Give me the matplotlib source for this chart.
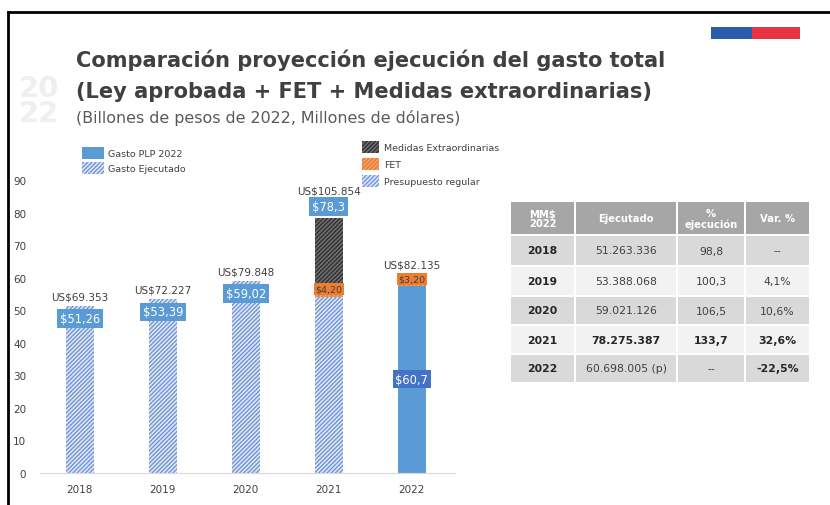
import numpy as np
import matplotlib
matplotlib.use("Agg")
import matplotlib.pyplot as plt
from matplotlib.patches import Rectangle, Patch
from matplotlib.lines import Line2D

plt.rcParams['hatch.linewidth'] = 0.9

# data
years = ['2018', '2019', '2020', '2021', '2022']
regular = [51.26, 53.39, 59.02, 54.0, 0.0]
fet = [0.0, 0.0, 0.0, 4.2, 3.2]
extra = [0.0, 0.0, 0.0, 20.1, 0.0]
plp = [0.0, 0.0, 0.0, 0.0, 57.5]
total_labels = ['$51,26', '$53,39', '$59,02', '$78,3', '$60,7']
fet_labels = ['', '', '', '$4,20', '$3,20']
usd_labels = ['US$69.353', 'US$72.227', 'US$79.848', 'US$105.854', 'US$82.135']

table_header = ['MM$\n2022', 'Ejecutado', '%\nejecución', 'Var. %']
table_years = ['2018', '2019', '2020', '2021', '2022']
table_ejecutado = ['51.263.336', '53.388.068', '59.021.126', '78.275.387', '60.698.005 (p)']
table_pct = ['98,8', '100,3', '106,5', '133,7', '--']
table_var = ['--', '4,1%', '10,6%', '32,6%', '-22,5%']

BLUE = '#5b9bd5'
HATCH_BLUE = '#6a8fd0'
HATCH_BG = '#dde6f6'
ORANGE = '#ed7d31'
DARK = '#2b2b2b'
TXT = '#404040'
HATCH = '////////'

fig = plt.figure(figsize=(8.3, 5.06), dpi=100)
fig.patch.set_facecolor('white')

# frame lines
fig.add_artist(Line2D([0.0096, 1.0], [0.974, 0.974], color='black', lw=2))
fig.add_artist(Line2D([0.0096, 0.0096], [0.0, 0.974], color='black', lw=2))

# flag
fig.add_artist(Rectangle((711 / 830, 1 - 40 / 506), 41 / 830, 12 / 506,
                         transform=fig.transFigure, color='#2a5caa', lw=0))
fig.add_artist(Rectangle((752 / 830, 1 - 40 / 506), 48 / 830, 12 / 506,
                         transform=fig.transFigure, color='#e63342', lw=0))

# faint logo
fig.text(0.022, 0.80, '20\n22', fontsize=21, fontweight='bold', color='#efefef',
         va='center', ha='left', linespacing=0.85)

# titles
fig.text(76 / 830, 1 - 60 / 506, 'Comparación proyección ejecución del gasto total',
         fontsize=15.1, fontweight='bold', color=TXT, va='center', ha='left')
fig.text(76 / 830, 1 - 92 / 506, '(Ley aprobada + FET + Medidas extraordinarias)',
         fontsize=15.1, fontweight='bold', color=TXT, va='center', ha='left')
fig.text(76 / 830, 1 - 118 / 506, '(Billones de pesos de 2022, Millones de dólares)',
         fontsize=11.4, color='#595959', va='center', ha='left')

# bar chart
ax = fig.add_axes([40 / 830, 1 - 474 / 506, 415 / 830, 293 / 506])
x = np.arange(len(years))
w = 0.33
reg = np.array(regular)
fe = np.array(fet)
ex = np.array(extra)
pl = np.array(plp)

ax.bar(x, reg, w, color=HATCH_BG, edgecolor=HATCH_BLUE, hatch=HATCH, lw=0)
ax.bar(x, pl, w, color=BLUE, lw=0)
base = reg + pl
ax.bar(x, fe, w, bottom=base, color=ORANGE, edgecolor='#f4a774', hatch=HATCH, lw=0)
ax.bar(x, ex, w, bottom=base + fe, color='#6e6e6e', edgecolor=DARK, hatch=HATCH, lw=0)
total = base + fe + ex

for i in range(len(years)):
    t = total[i]
    if i < 3:
        ypos = t - 3.9
        usd_y = t + 3.0
        box = BLUE
    elif i == 3:
        ypos = t + 3.6
        usd_y = t + 8.5
        box = BLUE
    else:
        ypos = t / 2 - 1.5
        usd_y = t + 3.4
        box = '#4472c4'
    ax.text(x[i], ypos, total_labels[i], ha='center', va='center', fontsize=8.3,
            color='white', bbox=dict(boxstyle='square,pad=0.25', fc=box, ec='none'))
    ax.text(x[i], usd_y, usd_labels[i], ha='center', va='center', fontsize=7.5, color=TXT)
    if fet_labels[i]:
        ax.text(x[i], base[i] + fe[i] / 2 + 0.4, fet_labels[i], ha='center', va='center',
                fontsize=6.8, color=TXT,
                bbox=dict(boxstyle='square,pad=0.15', fc=ORANGE, ec='none'))

ax.set_xlim(-0.48, 4.52)
ax.set_ylim(0, 90)
ax.set_yticks(range(0, 91, 10))
ax.set_xticks(x)
ax.set_xticklabels(years)
ax.tick_params(length=0, labelsize=7.5, colors=TXT)
ax.tick_params(axis='y', pad=10)
ax.tick_params(axis='x', pad=8)
for s in ['top', 'right', 'left']:
    ax.spines[s].set_visible(False)
ax.spines['bottom'].set_color('#d9d9d9')

# legends
h1 = [Patch(facecolor=BLUE, lw=0, label='Gasto PLP 2022'),
      Patch(facecolor=HATCH_BG, edgecolor=HATCH_BLUE, hatch=HATCH, lw=0, label='Gasto Ejecutado')]
fig.legend(handles=h1, loc='upper left', bbox_to_anchor=(73 / 830, 1 - 139 / 506),
           frameon=False, fontsize=6.8, handlelength=2.4, handleheight=1.6,
           labelspacing=0.35, handletextpad=0.4, labelcolor=TXT)
h2 = [Patch(facecolor='#6e6e6e', edgecolor=DARK, hatch=HATCH, lw=0, label='Medidas Extraordinarias'),
      Patch(facecolor=ORANGE, edgecolor='#f4a774', hatch=HATCH, lw=0, label='FET'),
      Patch(facecolor=HATCH_BG, edgecolor=HATCH_BLUE, hatch=HATCH, lw=0, label='Presupuesto regular')]
fig.legend(handles=h2, loc='upper left', bbox_to_anchor=(353 / 830, 1 - 133 / 506),
           frameon=False, fontsize=6.8, handlelength=1.8, handleheight=1.6,
           labelspacing=0.55, handletextpad=0.6, labelcolor=TXT)

# table
tax = fig.add_axes([0, 0, 1, 1])
tax.set_xlim(0, 830)
tax.set_ylim(506, 0)
tax.axis('off')
cols = [510, 575, 677, 745, 810]
rows = [203, 236, 267, 297, 326, 355, 384]
gap = 1.2
for j in range(4):
    x0, x1 = cols[j] + gap, cols[j + 1] - gap
    tax.add_patch(Rectangle((x0, rows[0]), x1 - x0, rows[1] - rows[0] - gap,
                            color='#a6a6a6', lw=0))
    tax.text((x0 + x1) / 2, (rows[0] + rows[1]) / 2, table_header[j], ha='center', va='center',
             fontsize=7.2, color='white', fontweight='bold', linespacing=0.95)

for r in range(len(table_years)):
    fc = '#d9d9d9' if r % 2 == 0 else '#f2f2f2'
    y0, y1 = rows[r + 1] + gap, rows[r + 2] - gap
    vals = [table_years[r], table_ejecutado[r], table_pct[r], table_var[r]]
    for j in range(4):
        x0, x1 = cols[j] + gap, cols[j + 1] - gap
        tax.add_patch(Rectangle((x0, y0), x1 - x0, y1 - y0, color=fc, lw=0))
        bold = (j == 0) or (r == 3) or (r == 4 and j == 3)
        tax.text((x0 + x1) / 2, (y0 + y1) / 2, vals[j], ha='center', va='center',
                 fontsize=7.8, color='#262626' if bold else TXT,
                 fontweight='bold' if bold else 'normal')

fig.savefig('out.png', dpi=100, facecolor='white')
